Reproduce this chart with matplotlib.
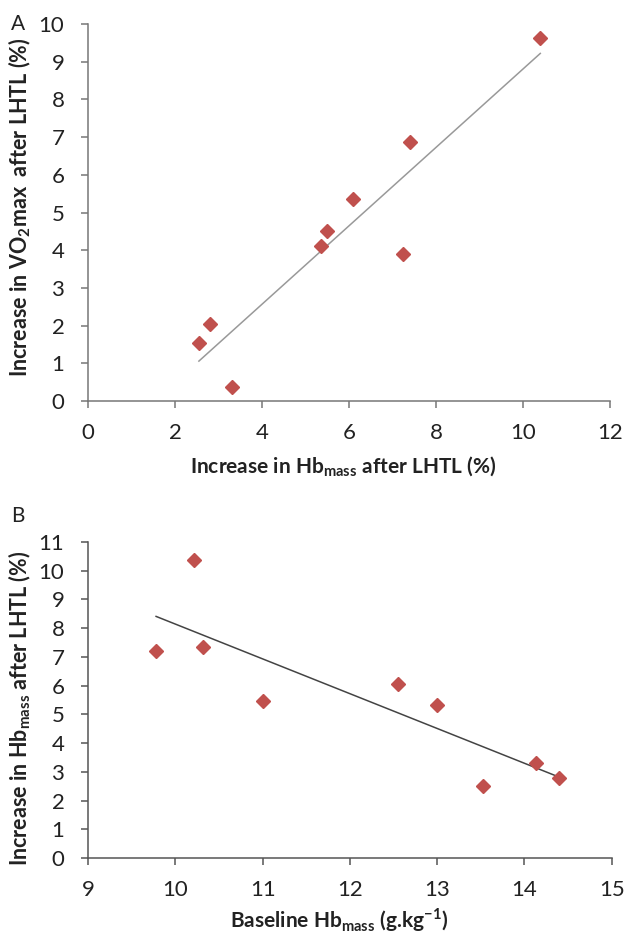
import numpy as np
import matplotlib
matplotlib.use("Agg")
import matplotlib.pyplot as plt

plt.rcParams['font.family'] = ['Lato', 'DejaVu Sans']
plt.rcParams['mathtext.fontset'] = 'custom'
plt.rcParams['mathtext.rm'] = 'Lato'
plt.rcParams['mathtext.bf'] = 'Lato:bold'

# panel A: Hb mass increase vs VO2max increase
hb_inc_a = [2.55, 2.8, 3.3, 5.35, 5.5, 6.1, 7.25, 7.4, 10.4]
vo2_inc = [1.55, 2.05, 0.38, 4.1, 4.5, 5.35, 3.9, 6.88, 9.62]

# panel B: baseline Hb mass vs Hb mass increase
hb_base = [9.78, 10.22, 10.32, 11.0, 12.55, 13.0, 13.52, 14.13, 14.4]
hb_inc_b = [7.2, 10.38, 7.33, 5.47, 6.07, 5.33, 2.5, 3.3, 2.8]

red = '#C0504D'

fig = plt.figure(figsize=(6.25, 9.36), dpi=100)
axA = fig.add_axes([0.1408, 0.5715, 0.835, 0.4029])
axB = fig.add_axes([0.1408, 0.0833, 0.838, 0.3376])


def style(ax, spine_col):
    for s in ['top', 'right']:
        ax.spines[s].set_visible(False)
    for s in ['left', 'bottom']:
        ax.spines[s].set_color(spine_col)
        ax.spines[s].set_linewidth(1.1)
    ax.tick_params(direction='out', length=5, width=1.1, color=spine_col,
                   labelsize=16, labelcolor='#222222')
    ax.tick_params(axis='y', pad=12)
    ax.tick_params(axis='x', pad=11)


# A
axA.plot(hb_inc_a, vo2_inc, 'D', color=red, markersize=7, zorder=3)
k, b = np.polyfit(hb_inc_a, vo2_inc, 1)
xa = np.array([min(hb_inc_a), max(hb_inc_a)])
axA.plot(xa, k * xa + b, color='#999999', linewidth=1.1)
axA.set_xlim(0, 12)
axA.set_ylim(0, 10)
axA.set_xticks(range(0, 13, 2))
axA.set_yticks(range(0, 11))
style(axA, '#777777')
axA.set_xlabel(r'Increase in Hb$_{\mathbf{mass}}$ after LHTL (%)',
               fontsize=15, fontweight='bold', color='#222222')
axA.set_ylabel(r'Increase in VO$_{\mathbf{2}}$max  after LHTL (%)',
               fontsize=15.5, fontweight='bold', color='#222222')
axA.xaxis.set_label_coords(0.49, -0.143)
axA.yaxis.set_label_coords(-0.105, 0.515)
fig.text(0.018, 0.974, 'A', fontsize=15, va='center', ha='left', color='#222222')

# B
axB.plot(hb_base, hb_inc_b, 'D', color=red, markersize=7, zorder=3)
k2, b2 = np.polyfit(hb_base, hb_inc_b, 1)
xb = np.array([min(hb_base), max(hb_base)])
axB.plot(xb, k2 * xb + b2, color='#444444', linewidth=1.1)
axB.set_xlim(9, 15)
axB.set_ylim(0, 11)
axB.set_xticks(range(9, 16))
axB.set_yticks(range(0, 12))
style(axB, '#555555')
axB.set_xlabel(r'Baseline Hb$_{\mathbf{mass}}$ (g.kg$^{\mathbf{-1}}$)',
               fontsize=15, fontweight='bold', color='#222222')
axB.set_ylabel(r'Increase in Hb$_{\mathbf{mass}}$ after LHTL (%)',
               fontsize=15.5, fontweight='bold', color='#222222')
axB.xaxis.set_label_coords(0.48, -0.152)
axB.yaxis.set_label_coords(-0.105, 0.475)
fig.text(0.018, 0.449, 'B', fontsize=15, va='center', ha='left', color='#222222')

fig.savefig('out.png', dpi=100, facecolor='white')
